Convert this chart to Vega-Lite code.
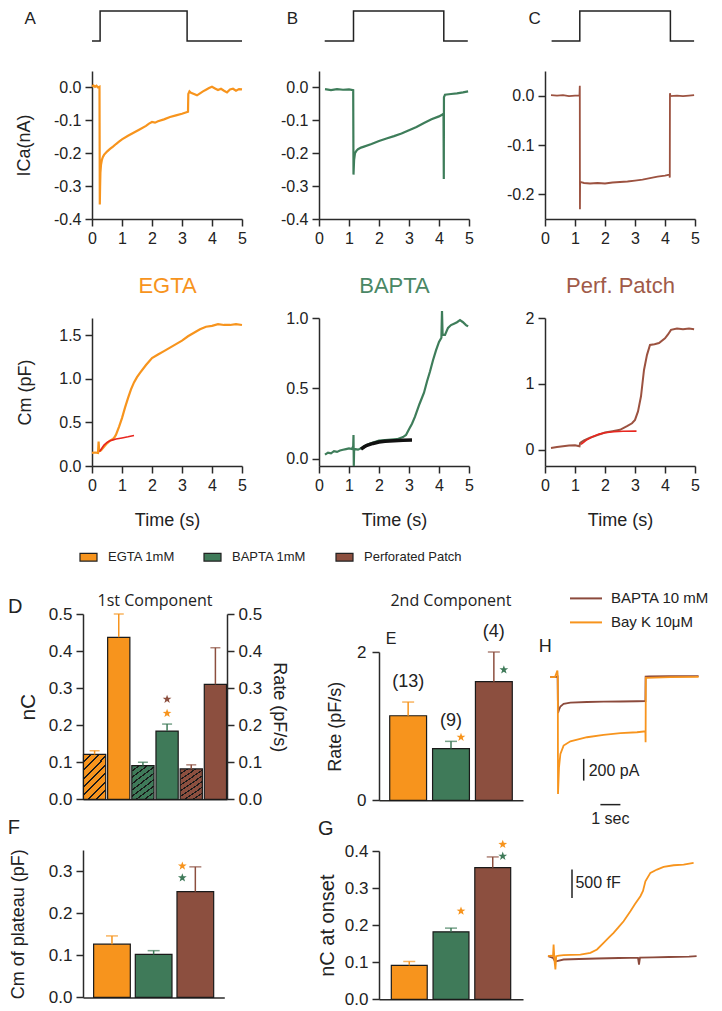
{
  "$schema": "https://vega.github.io/schema/vega-lite/v6.json",
  "background": "white",
  "padding": {"left": 7, "top": 8, "right": 5, "bottom": 5},
  "spacing": 0,
  "resolve": {"scale": {"color": "independent"}},
  "config": {
    "view": {"stroke": null},
    "font": "Liberation Sans",
    "locale": {"number": {"decimal": ".", "thousands": ",", "grouping": [3], "currency": ["$", ""], "minus": "-"}},
    "axis": {"grid": false, "domainColor": "#2a2a2a", "domainWidth": 1.5, "tickColor": "#2a2a2a", "tickWidth": 1.5, "tickSize": 7, "labelPadding": 4, "labelFont": "Liberation Sans", "labelFontSize": 16, "labelColor": "#222", "labelFlush": false, "labelOverlap": false, "titleFont": "Liberation Sans", "titleFontSize": 18, "titleFontWeight": "normal", "titleColor": "#222"},
    "title": {"font": "Liberation Sans", "fontWeight": "normal", "color": "#222"},
    "legend": {"labelFont": "Liberation Sans", "labelColor": "#222"}
  },
  "vconcat": [
    {
      "hconcat": [
        {"width": 8.7, "height": 59.25, "data": {"values": []}, "mark": "point"},
        {"width": 150, "height": 30,
         "title": {"text": "A", "anchor": "start", "frame": "group", "orient": "top", "dx": -67.4, "offset": -32.5, "fontSize": 17, "baseline": "alphabetic"},
         "data": {"values": [{"t": 0, "v": 0}, {"t": 0.27, "v": 1}, {"t": 3.17, "v": 0}, {"t": 5, "v": 0}]},
         "mark": {"type": "line", "interpolate": "step-after", "color": "#222", "strokeWidth": 1.5},
         "encoding": {"x": {"field": "t", "type": "quantitative", "scale": {"domain": [0, 5], "nice": false, "zero": false}, "axis": null}, "y": {"field": "v", "type": "quantitative", "scale": {"domain": [0, 1], "nice": false}, "axis": null}}},
        {"width": 76.6, "height": 1, "data": {"values": []}, "mark": "point"},
        {"width": 150, "height": 30,
         "title": {"text": "B", "anchor": "start", "frame": "group", "orient": "top", "dx": -32.3, "offset": -32.5, "fontSize": 17, "baseline": "alphabetic"},
         "data": {"values": [{"t": 0.19, "v": 0}, {"t": 1.15, "v": 1}, {"t": 4.16, "v": 0}, {"t": 4.96, "v": 0}]},
         "mark": {"type": "line", "interpolate": "step-after", "color": "#222", "strokeWidth": 1.5},
         "encoding": {"x": {"field": "t", "type": "quantitative", "scale": {"domain": [0, 5], "nice": false, "zero": false}, "axis": null}, "y": {"field": "v", "type": "quantitative", "scale": {"domain": [0, 1], "nice": false}, "axis": null}}},
        {"width": 76, "height": 1, "data": {"values": []}, "mark": "point"},
        {"width": 150, "height": 30,
         "title": {"text": "C", "anchor": "start", "frame": "group", "orient": "top", "dx": -16.6, "offset": -32.5, "fontSize": 17, "baseline": "alphabetic"},
         "data": {"values": [{"t": 0.22, "v": 0}, {"t": 1.16, "v": 1}, {"t": 4.18, "v": 0}, {"t": 4.97, "v": 0}]},
         "mark": {"type": "line", "interpolate": "step-after", "color": "#222", "strokeWidth": 1.5},
         "encoding": {"x": {"field": "t", "type": "quantitative", "scale": {"domain": [0, 5], "nice": false, "zero": false}, "axis": null}, "y": {"field": "v", "type": "quantitative", "scale": {"domain": [0, 1], "nice": false}, "axis": null}}}
      ],
      "spacing": 0, "bounds": "flush", "resolve": {"scale": {"color": "independent"}}
    },
    {
      "hconcat": [
        {"width": 8.7, "height": 235, "data": {"values": []}, "mark": "point"},
        {"width": 150, "height": 148,
         "data": {"values": [{"t":0,"v":0.003},{"t":0.05,"v":0.006},{"t":0.1,"v":0.002},{"t":0.15,"v":0.005},{"t":0.2,"v":0.0},{"t":0.25,"v":0.002},{"t":0.26,"v":-0.356},{"t":0.27,"v":-0.3},{"t":0.28,"v":-0.26},{"t":0.3,"v":-0.235},{"t":0.33,"v":-0.22},{"t":0.36,"v":-0.212},{"t":0.4,"v":-0.205},{"t":0.5,"v":-0.195},{"t":0.6,"v":-0.187},{"t":0.7,"v":-0.18},{"t":0.8,"v":-0.172},{"t":0.9,"v":-0.165},{"t":1.0,"v":-0.158},{"t":1.2,"v":-0.147},{"t":1.4,"v":-0.137},{"t":1.6,"v":-0.127},{"t":1.8,"v":-0.117},{"t":1.9,"v":-0.11},{"t":2.0,"v":-0.105},{"t":2.1,"v":-0.107},{"t":2.2,"v":-0.103},{"t":2.4,"v":-0.097},{"t":2.6,"v":-0.09},{"t":2.8,"v":-0.085},{"t":3.0,"v":-0.08},{"t":3.1,"v":-0.077},{"t":3.2,"v":-0.074},{"t":3.21,"v":-0.02},{"t":3.25,"v":-0.012},{"t":3.3,"v":-0.016},{"t":3.4,"v":-0.02},{"t":3.5,"v":-0.024},{"t":3.6,"v":-0.018},{"t":3.7,"v":-0.012},{"t":3.8,"v":-0.007},{"t":3.9,"v":-0.002},{"t":4.0,"v":0.002},{"t":4.1,"v":-0.003},{"t":4.2,"v":-0.008},{"t":4.3,"v":-0.004},{"t":4.4,"v":-0.01},{"t":4.5,"v":-0.015},{"t":4.6,"v":-0.006},{"t":4.7,"v":-0.004},{"t":4.8,"v":-0.01},{"t":4.9,"v":-0.005},{"t":5.0,"v":-0.006}]},
         "mark": {"type": "line", "color": "#F7941D", "strokeWidth": 2.2},
         "encoding": {
           "x": {"field": "t", "type": "quantitative", "scale": {"domain": [0, 5], "nice": false, "zero": false}, "axis": {"values": [0,1,2,3,4,5], "format": "d", "title": "EGTA", "titleColor": "#F7941D", "titleFontSize": 22, "titlePadding": 29}},
           "y": {"field": "v", "type": "quantitative", "scale": {"domain": [-0.4, 0.05], "nice": false, "zero": false}, "axis": {"values": [-0.4,-0.3,-0.2,-0.1,0], "format": ".1f", "title": "ICa(nA)", "titlePadding": 20}}}},
        {"width": 76.6, "height": 1, "data": {"values": []}, "mark": "point"},
        {"width": 150, "height": 148,
         "data": {"values": [{"t":0.2,"v":-0.005},{"t":0.4,"v":-0.008},{"t":0.6,"v":-0.005},{"t":0.8,"v":-0.007},{"t":1.0,"v":-0.006},{"t":1.14,"v":-0.008},{"t":1.15,"v":-0.265},{"t":1.17,"v":-0.22},{"t":1.2,"v":-0.2},{"t":1.25,"v":-0.192},{"t":1.3,"v":-0.188},{"t":1.4,"v":-0.183},{"t":1.5,"v":-0.18},{"t":1.75,"v":-0.172},{"t":2.0,"v":-0.163},{"t":2.25,"v":-0.155},{"t":2.5,"v":-0.148},{"t":2.75,"v":-0.14},{"t":3.0,"v":-0.13},{"t":3.25,"v":-0.12},{"t":3.5,"v":-0.108},{"t":3.75,"v":-0.097},{"t":4.0,"v":-0.088},{"t":4.1,"v":-0.083},{"t":4.15,"v":-0.08},{"t":4.16,"v":-0.278},{"t":4.165,"v":-0.03},{"t":4.2,"v":-0.022},{"t":4.4,"v":-0.02},{"t":4.6,"v":-0.018},{"t":4.8,"v":-0.015},{"t":4.97,"v":-0.012}]},
         "mark": {"type": "line", "color": "#3E7D5A", "strokeWidth": 2.2},
         "encoding": {
           "x": {"field": "t", "type": "quantitative", "scale": {"domain": [0, 5], "nice": false, "zero": false}, "axis": {"values": [0,1,2,3,4,5], "format": "d", "title": "BAPTA", "titleColor": "#4A8765", "titleFontSize": 22, "titlePadding": 29}},
           "y": {"field": "v", "type": "quantitative", "scale": {"domain": [-0.4, 0.05], "nice": false, "zero": false}, "axis": {"values": [-0.4,-0.3,-0.2,-0.1,0], "format": ".1f", "title": null}}}},
        {"width": 76, "height": 1, "data": {"values": []}, "mark": "point"},
        {"width": 150, "height": 148,
         "data": {"values": [{"t":0.2,"v":0.001},{"t":0.4,"v":0.0},{"t":0.6,"v":0.001},{"t":0.8,"v":-0.001},{"t":1.0,"v":0.0},{"t":1.15,"v":0.0},{"t":1.16,"v":0.02},{"t":1.165,"v":-0.23},{"t":1.17,"v":-0.175},{"t":1.3,"v":-0.177},{"t":1.5,"v":-0.178},{"t":1.75,"v":-0.177},{"t":2.0,"v":-0.178},{"t":2.25,"v":-0.176},{"t":2.5,"v":-0.175},{"t":2.75,"v":-0.174},{"t":3.0,"v":-0.172},{"t":3.25,"v":-0.17},{"t":3.5,"v":-0.167},{"t":3.75,"v":-0.164},{"t":4.0,"v":-0.162},{"t":4.15,"v":-0.16},{"t":4.16,"v":-0.166},{"t":4.165,"v":0.005},{"t":4.18,"v":-0.001},{"t":4.4,"v":0.0},{"t":4.6,"v":-0.001},{"t":4.8,"v":0.0},{"t":4.97,"v":0.001}]},
         "mark": {"type": "line", "color": "#9C5240", "strokeWidth": 1.8},
         "encoding": {
           "x": {"field": "t", "type": "quantitative", "scale": {"domain": [0, 5], "nice": false, "zero": false}, "axis": {"values": [0,1,2,3,4,5], "format": "d", "title": "Perf. Patch", "titleColor": "#A05A48", "titleFontSize": 22, "titlePadding": 29}},
           "y": {"field": "v", "type": "quantitative", "scale": {"domain": [-0.25, 0.05], "nice": false, "zero": false}, "axis": {"values": [-0.2,-0.1,0], "format": ".1f", "title": null}}}}
      ],
      "spacing": 0, "bounds": "flush", "resolve": {"scale": {"color": "independent"}}
    },
    {
      "hconcat": [
        {"width": 8.7, "height": 269, "data": {"values": []}, "mark": {"type": "square"},
         "encoding": {"color": {"field": "c", "type": "nominal",
           "scale": {"domain": ["EGTA 1mM", "BAPTA 1mM", "Perforated Patch"], "range": ["#F7941D", "#3F7A59", "#8C4F3F"]},
           "legend": {"orient": "none", "legendX": -4, "legendY": 229.5, "direction": "horizontal", "title": null, "symbolType": "M-1,-0.45H1V0.45H-1Z", "symbolSize": 289, "symbolStrokeColor": "#222", "symbolStrokeWidth": 1.2, "symbolOpacity": 1, "labelFont": "Liberation Sans Narrow, Liberation Sans", "labelFontSize": 13, "labelOffset": 10, "columnPadding": 26, "padding": 0,
             "encode": {"symbols": {"update": {"stroke": {"value": "#222"}, "strokeWidth": {"value": 1.2}, "opacity": {"value": 1}}}}}}}},
        {"width": 150, "height": 148,
         "encoding": {
           "x": {"field": "t", "type": "quantitative", "scale": {"domain": [0, 5], "nice": false, "zero": false}, "axis": {"values": [0,1,2,3,4,5], "format": "d", "title": "Time (s)", "titlePadding": 18}},
           "y": {"field": "v", "type": "quantitative", "scale": {"domain": [0, 1.7], "nice": false, "zero": false}, "axis": {"values": [0,0.5,1,1.5], "format": ".1f", "title": "Cm (pF)", "titlePadding": 24}}},
         "layer": [
           {"data": {"values": [{"t":0,"v":0.15},{"t":0.1,"v":0.155},{"t":0.2,"v":0.15},{"t":0.22,"v":0.28},{"t":0.24,"v":0.17},{"t":0.3,"v":0.18},{"t":0.4,"v":0.22},{"t":0.5,"v":0.26},{"t":0.6,"v":0.29},{"t":0.7,"v":0.31},{"t":0.75,"v":0.33},{"t":0.8,"v":0.36},{"t":0.9,"v":0.45},{"t":1.0,"v":0.55},{"t":1.1,"v":0.67},{"t":1.2,"v":0.78},{"t":1.3,"v":0.88},{"t":1.4,"v":0.96},{"t":1.5,"v":1.02},{"t":1.6,"v":1.07},{"t":1.8,"v":1.16},{"t":2.0,"v":1.24},{"t":2.2,"v":1.28},{"t":2.4,"v":1.32},{"t":2.6,"v":1.36},{"t":2.8,"v":1.4},{"t":3.0,"v":1.44},{"t":3.2,"v":1.49},{"t":3.4,"v":1.53},{"t":3.6,"v":1.57},{"t":3.8,"v":1.6},{"t":4.0,"v":1.61},{"t":4.2,"v":1.63},{"t":4.4,"v":1.62},{"t":4.6,"v":1.62},{"t":4.8,"v":1.63},{"t":5.0,"v":1.62}]},
            "mark": {"type": "line", "color": "#F7941D", "strokeWidth": 2.2}},
           {"data": {"values": [{"t":0.25,"v":0.165},{"t":0.3,"v":0.19},{"t":0.35,"v":0.215},{"t":0.4,"v":0.24},{"t":0.5,"v":0.27},{"t":0.6,"v":0.29},{"t":0.7,"v":0.3},{"t":0.8,"v":0.31},{"t":1.0,"v":0.322},{"t":1.2,"v":0.335},{"t":1.4,"v":0.35}]},
            "mark": {"type": "line", "color": "#E8261F", "strokeWidth": 1.6}}
         ]},
        {"width": 76.6, "height": 1, "data": {"values": []}, "mark": "point"},
        {"width": 150, "height": 148,
         "encoding": {
           "x": {"field": "t", "type": "quantitative", "scale": {"domain": [0, 5], "nice": false, "zero": false}, "axis": {"values": [0,1,2,3,4,5], "format": "d", "title": "Time (s)", "titlePadding": 18}},
           "y": {"field": "v", "type": "quantitative", "scale": {"domain": [-0.05, 1.0], "nice": false, "zero": false}, "axis": {"values": [0,0.5,1], "format": ".1f", "title": null}}},
         "layer": [
           {"data": {"values": [{"t":0.2,"v":0.03},{"t":0.3,"v":0.045},{"t":0.4,"v":0.04},{"t":0.5,"v":0.055},{"t":0.6,"v":0.05},{"t":0.7,"v":0.06},{"t":0.8,"v":0.065},{"t":0.9,"v":0.07},{"t":1.0,"v":0.075},{"t":1.1,"v":0.07},{"t":1.14,"v":0.09},{"t":1.15,"v":0.17},{"t":1.16,"v":-0.05},{"t":1.17,"v":0.06},{"t":1.2,"v":0.07},{"t":1.3,"v":0.066},{"t":1.4,"v":0.075},{"t":1.5,"v":0.09},{"t":1.7,"v":0.11},{"t":2.0,"v":0.13},{"t":2.3,"v":0.135},{"t":2.6,"v":0.14},{"t":2.8,"v":0.155},{"t":2.9,"v":0.17},{"t":3.0,"v":0.21},{"t":3.1,"v":0.25},{"t":3.2,"v":0.3},{"t":3.35,"v":0.39},{"t":3.5,"v":0.47},{"t":3.6,"v":0.55},{"t":3.7,"v":0.62},{"t":3.8,"v":0.7},{"t":3.9,"v":0.77},{"t":4.0,"v":0.83},{"t":4.08,"v":0.86},{"t":4.1,"v":1.05},{"t":4.12,"v":0.88},{"t":4.2,"v":0.88},{"t":4.3,"v":0.93},{"t":4.4,"v":0.95},{"t":4.5,"v":0.96},{"t":4.6,"v":0.97},{"t":4.7,"v":0.985},{"t":4.8,"v":0.97},{"t":4.9,"v":0.95},{"t":4.97,"v":0.94}]},
            "mark": {"type": "line", "color": "#3E7D5A", "strokeWidth": 2.2}},
           {"data": {"values": [{"t":1.4,"v":0.07},{"t":1.5,"v":0.085},{"t":1.6,"v":0.097},{"t":1.8,"v":0.11},{"t":2.0,"v":0.12},{"t":2.2,"v":0.126},{"t":2.5,"v":0.13},{"t":2.8,"v":0.133},{"t":3.1,"v":0.135}]},
            "mark": {"type": "line", "color": "#111", "strokeWidth": 3.5}}
         ]},
        {"width": 76, "height": 1, "data": {"values": []}, "mark": "point"},
        {"width": 150, "height": 148,
         "encoding": {
           "x": {"field": "t", "type": "quantitative", "scale": {"domain": [0, 5], "nice": false, "zero": false}, "axis": {"values": [0,1,2,3,4,5], "format": "d", "title": "Time (s)", "titlePadding": 18}},
           "y": {"field": "v", "type": "quantitative", "scale": {"domain": [-0.25, 2], "nice": false, "zero": false}, "axis": {"values": [0,1,2], "format": "d", "title": null}}},
         "layer": [
           {"data": {"values": [{"t":0.2,"v":0.025},{"t":0.4,"v":0.04},{"t":0.6,"v":0.05},{"t":0.8,"v":0.06},{"t":1.0,"v":0.065},{"t":1.15,"v":0.05},{"t":1.17,"v":0.1},{"t":1.2,"v":0.11},{"t":1.3,"v":0.14},{"t":1.5,"v":0.18},{"t":1.75,"v":0.22},{"t":2.0,"v":0.26},{"t":2.25,"v":0.28},{"t":2.5,"v":0.3},{"t":2.75,"v":0.36},{"t":2.9,"v":0.4},{"t":3.0,"v":0.45},{"t":3.1,"v":0.58},{"t":3.2,"v":0.81},{"t":3.3,"v":1.21},{"t":3.4,"v":1.44},{"t":3.5,"v":1.59},{"t":3.65,"v":1.6},{"t":3.8,"v":1.62},{"t":4.0,"v":1.69},{"t":4.1,"v":1.75},{"t":4.2,"v":1.82},{"t":4.4,"v":1.84},{"t":4.6,"v":1.83},{"t":4.8,"v":1.84},{"t":4.97,"v":1.83}]},
            "mark": {"type": "line", "color": "#9C5240", "strokeWidth": 2}},
           {"data": {"values": [{"t":1.2,"v":0.08},{"t":1.4,"v":0.15},{"t":1.6,"v":0.2},{"t":1.8,"v":0.235},{"t":2.0,"v":0.255},{"t":2.3,"v":0.27},{"t":2.6,"v":0.278},{"t":3.05,"v":0.28}]},
            "mark": {"type": "line", "color": "#E8261F", "strokeWidth": 1.6}}
         ]}
      ],
      "spacing": 0, "bounds": "flush", "resolve": {"scale": {"color": "independent"}}
    },
    {
      "hconcat": [
        {
          "vconcat": [
            {
              "width": 144, "height": 185.3,
              "title": {"text": "1st Component", "font": "Open Sans", "fontSize": 16, "anchor": "middle", "frame": "group", "offset": -16.5, "baseline": "alphabetic"},
              "layer": [
                {
                  "data": {"values": [{"bar":"EGTA nC","cond":"EGTA","kind":"n","val":0.121,"err":0.131},{"bar":"EGTA r","cond":"EGTA","kind":"r","val":0.437,"err":0.5},{"bar":"BAPTA nC","cond":"BAPTA","kind":"n","val":0.091,"err":0.1},{"bar":"BAPTA r","cond":"BAPTA","kind":"r","val":0.184,"err":0.203},{"bar":"Perf nC","cond":"Perf","kind":"n","val":0.082,"err":0.093},{"bar":"Perf r","cond":"Perf","kind":"r","val":0.31,"err":0.409}]},
                  "encoding": {
                    "x": {"field": "bar", "type": "nominal", "sort": null, "scale": {"domain": ["EGTA nC","EGTA r","BAPTA nC","BAPTA r","Perf nC","Perf r"], "paddingInner": 0.08, "paddingOuter": 0.02}, "axis": {"labels": false, "ticks": false, "title": null}},
                    "y": {"field": "val", "type": "quantitative", "scale": {"domain": [0, 0.5], "nice": false}, "axis": {"values": [0,0.1,0.2,0.3,0.4,0.5], "format": ".1f", "title": "nC", "titleFontSize": 21, "labelFontSize": 17, "titlePadding": 10}}
                  },
                  "layer": [
                    {"transform": [{"filter": "datum.kind == 'r'"}], "mark": {"type": "bar", "stroke": "#1a1a1a", "strokeWidth": 1.2},
                     "encoding": {"color": {"field": "cond", "type": "nominal", "scale": {"domain": ["EGTA","BAPTA","Perf"], "range": ["#F7941D","#3F7A59","#8C4F3F"]}, "legend": null}}},
                    {"transform": [{"filter": "datum.bar == 'EGTA nC'"}], "mark": {"type": "bar", "stroke": "#1a1a1a", "strokeWidth": 1.2,
                      "fill": {"gradient": "linear", "x1": 0, "y1": 0, "x2": 0.6, "y2": 1.2, "stops": [{"offset":0,"color":"#F7941D"},{"offset":0.095,"color":"#F7941D"},{"offset":0.095,"color":"#1a1a1a"},{"offset":0.125,"color":"#1a1a1a"},{"offset":0.125,"color":"#F7941D"},{"offset":0.22,"color":"#F7941D"},{"offset":0.22,"color":"#1a1a1a"},{"offset":0.25,"color":"#1a1a1a"},{"offset":0.25,"color":"#F7941D"},{"offset":0.345,"color":"#F7941D"},{"offset":0.345,"color":"#1a1a1a"},{"offset":0.375,"color":"#1a1a1a"},{"offset":0.375,"color":"#F7941D"},{"offset":0.47,"color":"#F7941D"},{"offset":0.47,"color":"#1a1a1a"},{"offset":0.5,"color":"#1a1a1a"},{"offset":0.5,"color":"#F7941D"},{"offset":0.595,"color":"#F7941D"},{"offset":0.595,"color":"#1a1a1a"},{"offset":0.625,"color":"#1a1a1a"},{"offset":0.625,"color":"#F7941D"},{"offset":0.72,"color":"#F7941D"},{"offset":0.72,"color":"#1a1a1a"},{"offset":0.75,"color":"#1a1a1a"},{"offset":0.75,"color":"#F7941D"},{"offset":0.845,"color":"#F7941D"},{"offset":0.845,"color":"#1a1a1a"},{"offset":0.875,"color":"#1a1a1a"},{"offset":0.875,"color":"#F7941D"},{"offset":0.97,"color":"#F7941D"},{"offset":0.97,"color":"#1a1a1a"},{"offset":1,"color":"#1a1a1a"}]}}},
                    {"transform": [{"filter": "datum.bar == 'BAPTA nC'"}], "mark": {"type": "bar", "stroke": "#1a1a1a", "strokeWidth": 1.2,
                      "fill": {"gradient": "linear", "x1": 0, "y1": 0, "x2": 0.6, "y2": 1.2, "stops": [{"offset":0,"color":"#3F7A59"},{"offset":0.095,"color":"#3F7A59"},{"offset":0.095,"color":"#1a1a1a"},{"offset":0.125,"color":"#1a1a1a"},{"offset":0.125,"color":"#3F7A59"},{"offset":0.22,"color":"#3F7A59"},{"offset":0.22,"color":"#1a1a1a"},{"offset":0.25,"color":"#1a1a1a"},{"offset":0.25,"color":"#3F7A59"},{"offset":0.345,"color":"#3F7A59"},{"offset":0.345,"color":"#1a1a1a"},{"offset":0.375,"color":"#1a1a1a"},{"offset":0.375,"color":"#3F7A59"},{"offset":0.47,"color":"#3F7A59"},{"offset":0.47,"color":"#1a1a1a"},{"offset":0.5,"color":"#1a1a1a"},{"offset":0.5,"color":"#3F7A59"},{"offset":0.595,"color":"#3F7A59"},{"offset":0.595,"color":"#1a1a1a"},{"offset":0.625,"color":"#1a1a1a"},{"offset":0.625,"color":"#3F7A59"},{"offset":0.72,"color":"#3F7A59"},{"offset":0.72,"color":"#1a1a1a"},{"offset":0.75,"color":"#1a1a1a"},{"offset":0.75,"color":"#3F7A59"},{"offset":0.845,"color":"#3F7A59"},{"offset":0.845,"color":"#1a1a1a"},{"offset":0.875,"color":"#1a1a1a"},{"offset":0.875,"color":"#3F7A59"},{"offset":0.97,"color":"#3F7A59"},{"offset":0.97,"color":"#1a1a1a"},{"offset":1,"color":"#1a1a1a"}]}}},
                    {"transform": [{"filter": "datum.bar == 'Perf nC'"}], "mark": {"type": "bar", "stroke": "#1a1a1a", "strokeWidth": 1.2,
                      "fill": {"gradient": "linear", "x1": 0, "y1": 0, "x2": 0.6, "y2": 1.2, "stops": [{"offset":0,"color":"#8C4F3F"},{"offset":0.095,"color":"#8C4F3F"},{"offset":0.095,"color":"#1a1a1a"},{"offset":0.125,"color":"#1a1a1a"},{"offset":0.125,"color":"#8C4F3F"},{"offset":0.22,"color":"#8C4F3F"},{"offset":0.22,"color":"#1a1a1a"},{"offset":0.25,"color":"#1a1a1a"},{"offset":0.25,"color":"#8C4F3F"},{"offset":0.345,"color":"#8C4F3F"},{"offset":0.345,"color":"#1a1a1a"},{"offset":0.375,"color":"#1a1a1a"},{"offset":0.375,"color":"#8C4F3F"},{"offset":0.47,"color":"#8C4F3F"},{"offset":0.47,"color":"#1a1a1a"},{"offset":0.5,"color":"#1a1a1a"},{"offset":0.5,"color":"#8C4F3F"},{"offset":0.595,"color":"#8C4F3F"},{"offset":0.595,"color":"#1a1a1a"},{"offset":0.625,"color":"#1a1a1a"},{"offset":0.625,"color":"#8C4F3F"},{"offset":0.72,"color":"#8C4F3F"},{"offset":0.72,"color":"#1a1a1a"},{"offset":0.75,"color":"#1a1a1a"},{"offset":0.75,"color":"#8C4F3F"},{"offset":0.845,"color":"#8C4F3F"},{"offset":0.845,"color":"#1a1a1a"},{"offset":0.875,"color":"#1a1a1a"},{"offset":0.875,"color":"#8C4F3F"},{"offset":0.97,"color":"#8C4F3F"},{"offset":0.97,"color":"#1a1a1a"},{"offset":1,"color":"#1a1a1a"}]}}},
                    {"mark": {"type": "rule", "strokeWidth": 1.5},
                     "encoding": {"y2": {"field": "err"}, "color": {"field": "cond", "type": "nominal", "scale": {"domain": ["EGTA","BAPTA","Perf"], "range": ["#F7941D","#3F7A59","#8C4F3F"]}, "legend": null}}},
                    {"mark": {"type": "tick", "size": 10, "thickness": 1.5},
                     "encoding": {"y": {"field": "err", "type": "quantitative"}, "color": {"field": "cond", "type": "nominal", "scale": {"domain": ["EGTA","BAPTA","Perf"], "range": ["#F7941D","#3F7A59","#8C4F3F"]}, "legend": null}}},
                    {"data": {"values": [{"bar": "BAPTA r", "val": 0.27, "sc": "Perf"}, {"bar": "BAPTA r", "val": 0.232, "sc": "EGTA"}]},
                     "mark": {"type": "point", "shape": "M0,-1L0.24,-0.33L0.95,-0.31L0.38,0.12L0.59,0.81L0,0.4L-0.59,0.81L-0.38,0.12L-0.95,-0.31L-0.24,-0.33Z", "filled": true, "size": 85, "opacity": 1},
                     "encoding": {"color": {"field": "sc", "type": "nominal", "scale": {"domain": ["EGTA","BAPTA","Perf"], "range": ["#F7941D","#3F7A59","#7A4A22"]}, "legend": null}}}
                  ]
                },
                {
                  "data": {"values": [{"val": 0}, {"val": 0.5}]},
                  "mark": {"type": "point", "opacity": 0},
                  "encoding": {"y": {"field": "val", "type": "quantitative", "scale": {"domain": [0, 0.5], "nice": false}, "axis": {"orient": "right", "values": [0,0.1,0.2,0.3,0.4,0.5], "format": ".1f", "title": "Rate (pF/s)", "labelFontSize": 17, "titlePadding": 8}}}
                }
              ],
              "resolve": {"scale": {"y": "independent"}}
            },
            {"width": 144, "height": 50, "data": {"values": []}, "mark": "point",
             "title": {"text": "D", "anchor": "start", "frame": "group", "orient": "top", "dx": -75, "offset": 167, "fontSize": 20, "baseline": "alphabetic"}},
            {
              "width": 141.3, "height": 147.4,
              "title": {"text": "F", "anchor": "start", "frame": "group", "orient": "top", "dx": -75.3, "offset": -5.5, "fontSize": 20, "baseline": "alphabetic"},
              "data": {"values": [{"cond":"EGTA","val":0.1265,"err":0.146},{"cond":"BAPTA","val":0.102,"err":0.111},{"cond":"Perf","val":0.251,"err":0.31}]},
              "encoding": {
                "x": {"field": "cond", "type": "nominal", "sort": null, "scale": {"domain": ["EGTA","BAPTA","Perf"], "paddingInner": 0.12, "paddingOuter": 0.255}, "axis": {"labels": false, "ticks": false, "title": null}},
                "y": {"field": "val", "type": "quantitative", "scale": {"domain": [0, 0.35], "nice": false}, "axis": {"values": [0,0.1,0.2,0.3], "format": ".1f", "title": "Cm of plateau (pF)", "labelFontSize": 17, "titlePadding": 21}}
              },
              "layer": [
                {"mark": {"type": "bar", "stroke": "#1a1a1a", "strokeWidth": 1.2},
                 "encoding": {"color": {"field": "cond", "type": "nominal", "scale": {"domain": ["EGTA","BAPTA","Perf"], "range": ["#F7941D","#3F7A59","#8C4F3F"]}, "legend": null}}},
                {"mark": {"type": "rule", "strokeWidth": 1.5},
                 "encoding": {"y2": {"field": "err"}, "color": {"field": "cond", "type": "nominal", "scale": {"domain": ["EGTA","BAPTA","Perf"], "range": ["#F7941D","#3F7A59","#8C4F3F"]}, "legend": null}}},
                {"mark": {"type": "tick", "size": 12, "thickness": 1.5},
                 "encoding": {"y": {"field": "err", "type": "quantitative"}, "color": {"field": "cond", "type": "nominal", "scale": {"domain": ["EGTA","BAPTA","Perf"], "range": ["#F7941D","#3F7A59","#8C4F3F"]}, "legend": null}}},
                {"data": {"values": [{"cond": "Perf", "val": 0.312, "sc": "EGTA"}, {"cond": "Perf", "val": 0.284, "sc": "BAPTA"}]},
                 "mark": {"type": "point", "shape": "M0,-1L0.24,-0.33L0.95,-0.31L0.38,0.12L0.59,0.81L0,0.4L-0.59,0.81L-0.38,0.12L-0.95,-0.31L-0.24,-0.33Z", "filled": true, "size": 85, "opacity": 1, "xOffset": -13},
                 "encoding": {"color": {"field": "sc", "type": "nominal", "scale": {"domain": ["EGTA","BAPTA","Perf"], "range": ["#F7941D","#3F7A59","#8C4F3F"]}, "legend": null}}}
              ]
            }
          ],
          "spacing": 0, "bounds": "flush", "resolve": {"scale": {"color": "independent"}}
        },
        {"width": 29, "height": 1, "data": {"values": []}, "mark": "point"},
        {
          "vconcat": [
            {"width": 144, "height": 37.7, "data": {"values": []}, "mark": "point",
             "title": {"text": "2nd Component", "font": "Open Sans", "fontSize": 16, "anchor": "middle", "frame": "group", "offset": -8, "baseline": "alphabetic"}},
            {
              "width": 144, "height": 148.3,
              "title": {"text": "E", "anchor": "start", "frame": "group", "orient": "top", "dx": 6.7, "offset": -36.6, "fontSize": 16, "baseline": "alphabetic"},
              "data": {"values": [{"cond":"EGTA","val":1.14,"err":1.325,"n":"(13)"},{"cond":"BAPTA","val":0.697,"err":0.795,"n":"(9)"},{"cond":"Perf","val":1.6,"err":2.0,"n":"(4)"}]},
              "encoding": {
                "x": {"field": "cond", "type": "nominal", "sort": null, "scale": {"domain": ["EGTA","BAPTA","Perf"], "paddingInner": 0.14, "paddingOuter": 0.25}, "axis": {"labels": false, "ticks": false, "title": null}},
                "y": {"field": "val", "type": "quantitative", "scale": {"domain": [0, 2], "nice": false}, "axis": {"values": [0,1,2], "format": "d", "title": "Rate (pF/s)", "labelFontSize": 17, "labelPadding": 6, "titlePadding": 12}}
              },
              "layer": [
                {"mark": {"type": "bar", "stroke": "#1a1a1a", "strokeWidth": 1.2},
                 "encoding": {"color": {"field": "cond", "type": "nominal", "scale": {"domain": ["EGTA","BAPTA","Perf"], "range": ["#F7941D","#3F7A59","#8C4F3F"]}, "legend": null}}},
                {"mark": {"type": "rule", "strokeWidth": 1.5},
                 "encoding": {"y2": {"field": "err"}, "color": {"field": "cond", "type": "nominal", "scale": {"domain": ["EGTA","BAPTA","Perf"], "range": ["#F7941D","#3F7A59","#8C4F3F"]}, "legend": null}}},
                {"mark": {"type": "tick", "size": 12, "thickness": 1.5},
                 "encoding": {"y": {"field": "err", "type": "quantitative"}, "color": {"field": "cond", "type": "nominal", "scale": {"domain": ["EGTA","BAPTA","Perf"], "range": ["#F7941D","#3F7A59","#8C4F3F"]}, "legend": null}}},
                {"mark": {"type": "text", "dy": -20, "fontSize": 18, "color": "#222"},
                 "encoding": {"y": {"field": "err", "type": "quantitative"}, "text": {"field": "n"}}},
                {"data": {"values": [{"cond": "BAPTA", "val": 0.85, "sc": "EGTA"}, {"cond": "Perf", "val": 1.76, "sc": "BAPTA"}]},
                 "mark": {"type": "point", "shape": "M0,-1L0.24,-0.33L0.95,-0.31L0.38,0.12L0.59,0.81L0,0.4L-0.59,0.81L-0.38,0.12L-0.95,-0.31L-0.24,-0.33Z", "filled": true, "size": 85, "opacity": 1, "xOffset": 10},
                 "encoding": {"color": {"field": "sc", "type": "nominal", "scale": {"domain": ["EGTA","BAPTA","Perf"], "range": ["#F7941D","#3F7A59","#8C4F3F"]}, "legend": null}}}
              ]
            },
            {"width": 144, "height": 50, "data": {"values": []}, "mark": "point"},
            {
              "width": 144, "height": 148.3,
              "title": {"text": "G", "anchor": "start", "frame": "group", "orient": "top", "dx": -61, "offset": -15, "fontSize": 20, "baseline": "alphabetic"},
              "data": {"values": [{"cond":"EGTA","val":0.0916,"err":0.102},{"cond":"BAPTA","val":0.182,"err":0.192},{"cond":"Perf","val":0.355,"err":0.384}]},
              "encoding": {
                "x": {"field": "cond", "type": "nominal", "sort": null, "scale": {"domain": ["EGTA","BAPTA","Perf"], "paddingInner": 0.14, "paddingOuter": 0.295}, "axis": {"labels": false, "ticks": false, "title": null}},
                "y": {"field": "val", "type": "quantitative", "scale": {"domain": [0, 0.4], "nice": false}, "axis": {"values": [0,0.1,0.2,0.3,0.4], "format": ".1f", "title": "nC at onset", "titleFontSize": 20, "labelFontSize": 17, "titlePadding": 7}}
              },
              "layer": [
                {"mark": {"type": "bar", "stroke": "#1a1a1a", "strokeWidth": 1.2},
                 "encoding": {"color": {"field": "cond", "type": "nominal", "scale": {"domain": ["EGTA","BAPTA","Perf"], "range": ["#F7941D","#3F7A59","#8C4F3F"]}, "legend": null}}},
                {"mark": {"type": "rule", "strokeWidth": 1.5},
                 "encoding": {"y2": {"field": "err"}, "color": {"field": "cond", "type": "nominal", "scale": {"domain": ["EGTA","BAPTA","Perf"], "range": ["#F7941D","#3F7A59","#8C4F3F"]}, "legend": null}}},
                {"mark": {"type": "tick", "size": 12, "thickness": 1.5},
                 "encoding": {"y": {"field": "err", "type": "quantitative"}, "color": {"field": "cond", "type": "nominal", "scale": {"domain": ["EGTA","BAPTA","Perf"], "range": ["#F7941D","#3F7A59","#8C4F3F"]}, "legend": null}}},
                {"data": {"values": [{"cond": "BAPTA", "val": 0.238, "sc": "EGTA"}, {"cond": "Perf", "val": 0.418, "sc": "EGTA"}, {"cond": "Perf", "val": 0.386, "sc": "BAPTA"}]},
                 "mark": {"type": "point", "shape": "M0,-1L0.24,-0.33L0.95,-0.31L0.38,0.12L0.59,0.81L0,0.4L-0.59,0.81L-0.38,0.12L-0.95,-0.31L-0.24,-0.33Z", "filled": true, "size": 85, "opacity": 1, "xOffset": 10},
                 "encoding": {"color": {"field": "sc", "type": "nominal", "scale": {"domain": ["EGTA","BAPTA","Perf"], "range": ["#F7941D","#3F7A59","#8C4F3F"]}, "legend": null}}}
              ]
            }
          ],
          "spacing": 0, "bounds": "flush", "resolve": {"scale": {"color": "independent"}}
        },
        {"width": 14.7, "height": 1, "data": {"values": []}, "mark": "point"},
        {
          "vconcat": [
            {"width": 150, "height": 48.6, "data": {"values": []}, "mark": "point"},
            {
              "width": 150, "height": 150,
              "title": {"text": "H", "anchor": "start", "frame": "group", "orient": "top", "dx": -10.3, "offset": -82.7, "fontSize": 18, "baseline": "alphabetic"},
              "encoding": {
                "x": {"field": "t", "type": "quantitative", "scale": {"domain": [0, 7.5], "nice": false, "zero": false}, "axis": null},
                "y": {"field": "v", "type": "quantitative", "scale": {"domain": [-1250, 130], "nice": false, "zero": false}, "axis": null}
              },
              "layer": [
                {"data": {"values": [{"t":0.05,"v":0,"s":"BAPTA 10 mM"},{"t":0.3,"v":0,"s":"BAPTA 10 mM"},{"t":0.43,"v":5,"s":"BAPTA 10 mM"},{"t":0.45,"v":-330,"s":"BAPTA 10 mM"},{"t":0.5,"v":-300,"s":"BAPTA 10 mM"},{"t":0.57,"v":-270,"s":"BAPTA 10 mM"},{"t":0.73,"v":-246,"s":"BAPTA 10 mM"},{"t":1.07,"v":-234,"s":"BAPTA 10 mM"},{"t":1.9,"v":-229,"s":"BAPTA 10 mM"},{"t":2.73,"v":-226,"s":"BAPTA 10 mM"},{"t":3.57,"v":-224,"s":"BAPTA 10 mM"},{"t":4.4,"v":-222,"s":"BAPTA 10 mM"},{"t":4.82,"v":-220,"s":"BAPTA 10 mM"},{"t":4.83,"v":5,"s":"BAPTA 10 mM"},{"t":5.0,"v":6,"s":"BAPTA 10 mM"},{"t":6.0,"v":8,"s":"BAPTA 10 mM"},{"t":7.48,"v":9,"s":"BAPTA 10 mM"}]},
                 "mark": {"type": "line", "strokeWidth": 1.8},
                 "encoding": {"color": {"field": "s", "type": "nominal", "scale": {"domain": ["BAPTA 10 mM", "Bay K 10μM"], "range": ["#8B4A3C", "#F7941D"]},
                   "legend": {"orient": "none", "legendX": 26, "legendY": -75.6, "title": null, "symbolType": "M-1.6,0H1.6", "symbolSize": 400, "symbolStrokeWidth": 2, "labelFontSize": 15, "labelOffset": 14, "rowPadding": 5, "padding": 0}}}},
                {"data": {"values": [{"t":0.05,"v":0,"s":"Bay K 10μM"},{"t":0.3,"v":0,"s":"Bay K 10μM"},{"t":0.42,"v":60,"s":"Bay K 10μM"},{"t":0.44,"v":0,"s":"Bay K 10μM"},{"t":0.45,"v":-1075,"s":"Bay K 10μM"},{"t":0.5,"v":-830,"s":"Bay K 10μM"},{"t":0.57,"v":-706,"s":"Bay K 10μM"},{"t":0.73,"v":-630,"s":"Bay K 10μM"},{"t":1.07,"v":-590,"s":"Bay K 10μM"},{"t":1.9,"v":-553,"s":"Bay K 10μM"},{"t":2.73,"v":-531,"s":"Bay K 10μM"},{"t":3.57,"v":-516,"s":"Bay K 10μM"},{"t":4.4,"v":-507,"s":"Bay K 10μM"},{"t":4.82,"v":-498,"s":"Bay K 10μM"},{"t":4.83,"v":-599,"s":"Bay K 10μM"},{"t":4.84,"v":-5,"s":"Bay K 10μM"},{"t":4.9,"v":-6,"s":"Bay K 10μM"},{"t":6.07,"v":0,"s":"Bay K 10μM"},{"t":7.48,"v":2,"s":"Bay K 10μM"}]},
                 "mark": {"type": "line", "strokeWidth": 1.8},
                 "encoding": {"color": {"field": "s", "type": "nominal", "scale": {"domain": ["BAPTA 10 mM", "Bay K 10μM"], "range": ["#8B4A3C", "#F7941D"]}}}},
                {"data": {"values": [{"t": 1.735, "t2": 1.735, "v": -752, "v2": -952}, {"t": 2.57, "t2": 3.57, "v": -1173, "v2": -1173}]},
                 "mark": {"type": "rule", "color": "#222", "strokeWidth": 1.5},
                 "encoding": {"x2": {"field": "t2"}, "y2": {"field": "v2"}}},
                {"data": {"values": [{"t": 1.985, "v": -860, "label": "200 pA"}]},
                 "mark": {"type": "text", "align": "left", "fontSize": 16, "color": "#222"},
                 "encoding": {"text": {"field": "label"}}},
                {"data": {"values": [{"t": 3.07, "v": -1302, "label": "1 sec"}]},
                 "mark": {"type": "text", "align": "center", "fontSize": 16, "color": "#222"},
                 "encoding": {"text": {"field": "label"}}}
              ]
            },
            {"width": 150, "height": 47.7, "data": {"values": []}, "mark": "point"},
            {
              "width": 150, "height": 115,
              "encoding": {
                "x": {"field": "t", "type": "quantitative", "scale": {"domain": [0, 7.5], "nice": false, "zero": false}, "axis": null},
                "y": {"field": "v", "type": "quantitative", "scale": {"domain": [-350, 1680], "nice": false, "zero": false}, "axis": null}
              },
              "layer": [
                {"data": {"values": [{"t":-0.05,"v":0},{"t":0.2,"v":-30},{"t":0.3,"v":-90},{"t":0.4,"v":-88},{"t":0.73,"v":-59},{"t":1.5,"v":-50},{"t":2.4,"v":-41},{"t":3.5,"v":-32},{"t":4.07,"v":-29},{"t":4.45,"v":-30},{"t":4.5,"v":-147},{"t":4.55,"v":-25},{"t":5.2,"v":-20},{"t":6.0,"v":-15},{"t":7.0,"v":-8},{"t":7.38,"v":0}]},
                 "mark": {"type": "line", "color": "#8B4A3C", "strokeWidth": 1.8}},
                {"data": {"values": [{"t":-0.05,"v":0},{"t":0.1,"v":10},{"t":0.2,"v":0},{"t":0.23,"v":206},{"t":0.27,"v":-60},{"t":0.32,"v":-235},{"t":0.36,"v":0},{"t":0.5,"v":10},{"t":0.73,"v":18},{"t":1.1,"v":22},{"t":1.57,"v":29},{"t":2.07,"v":59},{"t":2.4,"v":118},{"t":2.73,"v":235},{"t":3.0,"v":330},{"t":3.23,"v":411},{"t":3.5,"v":520},{"t":3.73,"v":617},{"t":4.07,"v":794},{"t":4.3,"v":920},{"t":4.57,"v":1058},{"t":4.7,"v":1150},{"t":4.82,"v":1323},{"t":5.07,"v":1470},{"t":5.4,"v":1529},{"t":5.73,"v":1575},{"t":6.23,"v":1605},{"t":6.73,"v":1617},{"t":7.23,"v":1646}]},
                 "mark": {"type": "line", "color": "#F7941D", "strokeWidth": 1.8}},
                {"data": {"values": [{"t": 1.15, "t2": 1.15, "v": 1529, "v2": 1028}]},
                 "mark": {"type": "rule", "color": "#222", "strokeWidth": 1.5},
                 "encoding": {"x2": {"field": "t2"}, "y2": {"field": "v2"}}},
                {"data": {"values": [{"t": 1.32, "v": 1293, "label": "500 fF"}]},
                 "mark": {"type": "text", "align": "left", "fontSize": 16, "color": "#222"},
                 "encoding": {"text": {"field": "label"}}}
              ]
            }
          ],
          "spacing": 0, "bounds": "flush", "resolve": {"scale": {"color": "independent"}}
        }
      ],
      "spacing": 0, "resolve": {"scale": {"color": "independent"}}
    }
  ]
}
